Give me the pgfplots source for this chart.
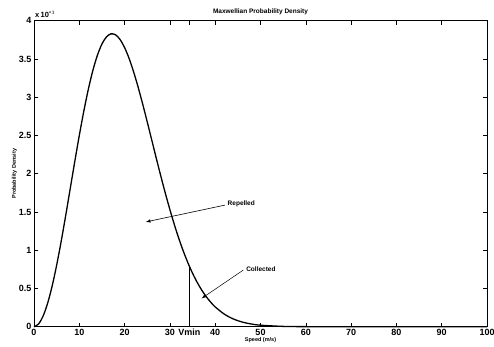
\documentclass[border=0pt]{standalone}
\usepackage{pgfplots}
\pgfplotsset{compat=1.18}
\usepackage{fontspec}
\setmainfont{Liberation Sans}
\begin{document}
\begin{tikzpicture}
\begin{axis}[
  scale only axis,
  width=453pt, height=306pt,
  xmin=0, xmax=100, ymin=0, ymax=4,
  xtick={0,10,20,30,34.3,40,50,60,70,80,90,100},
  xticklabels={0,10,20,30,Vmin,40,50,60,70,80,90,100},
  ytick={0,0.5,1,1.5,2,2.5,3,3.5,4},
  yticklabels={0,0.5,1,1.5,2,2.5,3,3.5,4},
  tick align=inside,
  major tick length=4pt,
  tick style={black, line width=0.6pt},
  axis line style={line width=0.8pt},
  ticklabel style={font=\fontsize{9}{10}\selectfont\bfseries},
  xticklabel style={yshift=1pt},
  yticklabel style={xshift=1pt},
  /pgf/number format/assume math mode=true,
  title={Maxwellian Probability Density},
  title style={font=\fontsize{6.5}{7}\selectfont\bfseries, yshift=-4pt},
  xlabel={Speed (m/s)},
  xlabel style={font=\fontsize{5.5}{6}\selectfont\bfseries, yshift=5pt},
  ylabel={Probability Density},
  ylabel style={font=\fontsize{5.5}{6}\selectfont\bfseries, yshift=-5pt},
  clip=false,
]
\addplot[black, line width=1.3pt, smooth] coordinates {
(0,0)(1,0.0349)(2,0.1381)(3,0.3055)(4,0.5305)(5,0.8042)(6,1.1160)(7,1.4542)
(8,1.8059)(9,2.1586)(10,2.4999)(11,2.8187)(12,3.1051)(13,3.3509)(14,3.5488)
(15,3.6960)(16,3.7888)(17,3.8282)(18,3.8157)(19,3.7538)(20,3.6486)(21,3.5056)
(22,3.3293)(23,3.1280)(24,2.9081)(25,2.6766)(26,2.4385)(27,2.2004)(28,1.9676)
(29,1.7431)(30,1.5298)(31,1.3308)(32,1.1476)(33,0.9811)(34,0.8316)(35,0.6986)
(36,0.5822)(37,0.4809)(38,0.3944)(39,0.3207)(40,0.2587)(42,0.1644)(44,0.1013)
(46,0.0604)(48,0.0350)(50,0.0196)(55,0.0041)(60,0.0007)(70,0)(80,0)(90,0)(100,0)
};
\addplot[black, line width=1pt] coordinates {(34.3,0)(34.3,0.79)};
\draw[-latex, line width=0.6pt] (axis cs:42.2,1.59) -- (axis cs:24.7,1.37);
\node[anchor=west, font=\fontsize{6.5}{7}\selectfont\bfseries, inner sep=1pt] at (axis cs:42.5,1.60) {Repelled};
\draw[-latex, line width=0.5pt] (axis cs:46.2,0.74) -- (axis cs:37.0,0.37);
\node[anchor=west, font=\fontsize{6.5}{7}\selectfont\bfseries, inner sep=1pt] at (axis cs:46.6,0.75) {Collected};
\node[anchor=south west, font=\fontsize{7.5}{8}\selectfont\bfseries, inner sep=0pt] at ([xshift=1pt,yshift=3pt]rel axis cs:0,1) {x\,10$^{\mbox{-}3}$};
\end{axis}
\pgfresetboundingbox
\path[use as bounding box] ([xshift=-34pt,yshift=-20.3pt]current axis.south west) rectangle ([xshift=7pt,yshift=20.7pt]current axis.north east);
\end{tikzpicture}
\end{document}
